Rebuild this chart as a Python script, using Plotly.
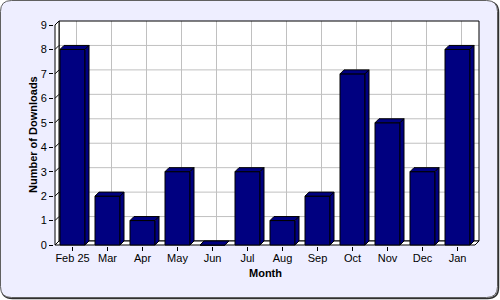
import plotly.graph_objects as go

# ---- data ----
months = ["Feb 25", "Mar", "Apr", "May", "Jun", "Jul", "Aug", "Sep", "Oct", "Nov", "Dec", "Jan"]
downloads = [8, 2, 1, 3, 0, 3, 1, 2, 7, 5, 3, 8]
y_ticks = list(range(0, 10))

# ---- geometry / style constants ----
W, H = 500, 300
X_PX = 35.0          # pixels per category
Y_PX = 220.0 / 9     # pixels per unit
DEPTH = 4.0          # 3D depth in pixels
ML, MR, MT, MB = 54, 20, 20, 54
PW, PH = W - ML - MR, H - MT - MB
DX = DEPTH / X_PX
DY = DEPTH / Y_PX
BAR_W = 25.0 / X_PX
NAVY = "#000080"
GRID = "#C0C0C0"
BG = "#EEEEFF"
FONT = "Arial, Liberation Sans, sans-serif"

n = len(months)
x0r = -0.5 - 1.0 / X_PX
y0r = -1.0 / Y_PX
xr = [x0r, x0r + PW / X_PX]
yr = [y0r, y0r + PH / Y_PX]
YMAX = 9
XL, XR = -0.5, n - 0.5

def px2paper_x(px):
    return (px - ML) / PW

def px2paper_y(py):
    return (H - MB - py) / PH

def poly(pts):
    return "M " + " L ".join(f"{a},{b}" for a, b in pts) + " Z"

def rounded(x0, y0, x1, y1, r):
    # pixel coords -> paper coords path with quadratic corners
    P = lambda a, b: f"{px2paper_x(a)},{px2paper_y(b)}"
    return (f"M {P(x0 + r, y0)} L {P(x1 - r, y0)} Q {P(x1, y0)} {P(x1, y0 + r)} "
            f"L {P(x1, y1 - r)} Q {P(x1, y1)} {P(x1 - r, y1)} "
            f"L {P(x0 + r, y1)} Q {P(x0, y1)} {P(x0, y1 - r)} "
            f"L {P(x0, y0 + r)} Q {P(x0, y0)} {P(x0 + r, y0)} Z")

shapes = []
# outer frame with shadow
shapes.append(dict(type="path", xref="paper", yref="paper", layer="below",
                   path=rounded(1.5, 1.5, 498.5, 298.5, 11),
                   line=dict(color="#303030", width=1.5), fillcolor="rgba(0,0,0,0)"))
shapes.append(dict(type="path", xref="paper", yref="paper", layer="below",
                   path=rounded(0.5, 0.5, 497.5, 297.5, 11),
                   line=dict(color="#606060", width=1), fillcolor=BG))

# back wall
shapes.append(dict(type="rect", xref="x", yref="y", layer="below",
                   x0=XL + DX, x1=XR + DX, y0=DY, y1=YMAX + DY,
                   fillcolor="white", line=dict(width=0)))
# horizontal grid on back wall
for k in y_ticks[1:-1]:
    shapes.append(dict(type="line", xref="x", yref="y", layer="below",
                       x0=XL + DX, x1=XR + DX, y0=k + DY, y1=k + DY,
                       line=dict(color=GRID, width=1)))
# vertical grid on back wall
for i in range(n):
    shapes.append(dict(type="line", xref="x", yref="y", layer="below",
                       x0=i + DX, x1=i + DX, y0=DY, y1=YMAX + DY,
                       line=dict(color=GRID, width=1)))
# back wall outline
shapes.append(dict(type="rect", xref="x", yref="y", layer="below",
                   x0=XL + DX, x1=XR + DX, y0=DY, y1=YMAX + DY,
                   fillcolor="rgba(0,0,0,0)", line=dict(color="black", width=1)))
# left wall
shapes.append(dict(type="path", xref="x", yref="y", layer="below",
                   path=poly([(XL, 0), (XL, YMAX), (XL + DX, YMAX + DY), (XL + DX, DY)]),
                   fillcolor="white", line=dict(color="black", width=1)))
for k in y_ticks[1:-1]:
    shapes.append(dict(type="line", xref="x", yref="y", layer="below",
                       x0=XL, x1=XL + DX, y0=k, y1=k + DY,
                       line=dict(color="black", width=1)))
# floor
shapes.append(dict(type="path", xref="x", yref="y", layer="below",
                   path=poly([(XL, 0), (XR, 0), (XR + DX, DY), (XL + DX, DY)]),
                   fillcolor="white", line=dict(color="black", width=1)))

# bar tops and sides
for i, v in enumerate(downloads):
    l, r = i - BAR_W / 2, i + BAR_W / 2
    shapes.append(dict(type="path", xref="x", yref="y", layer="above",
                       path=poly([(l, v), (r, v), (r + DX, v + DY), (l + DX, v + DY)]),
                       fillcolor=NAVY, line=dict(color="black", width=1)))
    if v > 0:
        shapes.append(dict(type="path", xref="x", yref="y", layer="above",
                           path=poly([(r, 0), (r + DX, DY), (r + DX, v + DY), (r, v)]),
                           fillcolor=NAVY, line=dict(color="black", width=1)))

fig = go.Figure()
fig.add_trace(go.Bar(
    x=list(range(n)), y=downloads, width=BAR_W,
    marker=dict(color=NAVY, line=dict(color="black", width=1)),
    hoverinfo="skip", showlegend=False,
))

fig.update_layout(
    width=W, height=H,
    margin=dict(l=ML, r=MR, t=MT, b=MB, pad=0),
    paper_bgcolor="white",
    plot_bgcolor="rgba(0,0,0,0)",
    font=dict(family=FONT, size=11, color="black"),
    shapes=shapes,
    xaxis=dict(range=xr, tickmode="array", tickvals=list(range(n)), ticktext=months,
               ticks="outside", ticklen=4, tickcolor="black", showgrid=False,
               zeroline=False, showline=False, fixedrange=True, ticklabelstandoff=-2,
               tickfont=dict(family=FONT, size=11, color="black")),
    yaxis=dict(range=yr, tickmode="array", tickvals=y_ticks, ticktext=[str(t) for t in y_ticks],
               ticks="outside", ticklen=4, tickcolor="black", showgrid=False,
               zeroline=False, showline=False, fixedrange=True,
               tickfont=dict(family=FONT, size=11, color="black")),
    annotations=[
        dict(text="<b>Month</b>", xref="paper", yref="paper",
             x=px2paper_x(265), y=px2paper_y(273), xanchor="center", yanchor="middle",
             showarrow=False, font=dict(family=FONT, size=11, color="black")),
        dict(text="<b>Number of Downloads</b>", xref="paper", yref="paper",
             x=px2paper_x(33), y=px2paper_y(135), xanchor="center", yanchor="middle",
             textangle=-90, showarrow=False, font=dict(family=FONT, size=11, color="black")),
    ],
)

fig.write_html("out.html")
